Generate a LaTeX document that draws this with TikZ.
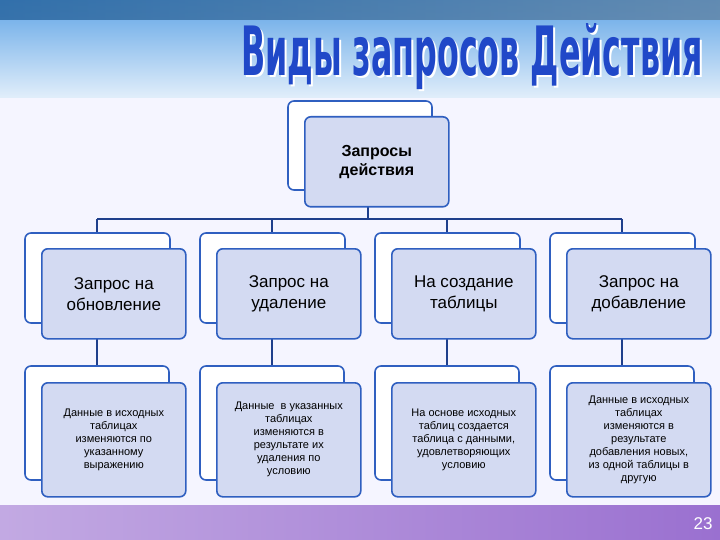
\documentclass[tikz,border=0pt]{standalone}
\usepackage{fontspec}
\setmainfont{Liberation Sans}
\newfontfamily\titlefont{DejaVu Sans Condensed}
\definecolor{bord}{HTML}{2F5FC0}
\definecolor{fillf}{HTML}{D3DAF2}
\definecolor{lin}{HTML}{1F3F8C}
\definecolor{topc}{HTML}{3A8FE0}
\definecolor{botc}{HTML}{9A70D0}
\definecolor{titc}{HTML}{2048C8}
\begin{document}
\begin{tikzpicture}[x=1pt,y=-1pt,
 backbox/.style={draw=bord,line width=1.6pt,fill=white,rounded corners=6pt},
 frontbox/.style={draw=bord,line width=1.6pt,fill=fillf,rounded corners=6pt},
 conn/.style={draw=lin,line width=1.6pt}]
\useasboundingbox (0,0) rectangle (720,540);
% background
\fill[top color=topc!80!white,bottom color=topc!15!white] (0,0) rectangle (720,98);
\fill[left color=topc,right color=topc!60!white,opacity=0.6] (0,0) rectangle (720,20);
\fill[blue!4] (0,98) rectangle (720,505);
\fill[left color=botc!60!white,right color=botc] (0,505) rectangle (720,540);
\node[text=white,font=\fontsize{17}{17}\selectfont] (pg) at (703,524) {23};
% title
\node[font=\titlefont\bfseries\fontsize{44}{44}\selectfont,text=white,anchor=center] (titleb) at (474,59)
 {\resizebox{462pt}{52pt}{Виды запросов Действия}};
\node[font=\titlefont\bfseries\fontsize{44}{44}\selectfont,text=titc,anchor=center] (title) at (472,57)
 {\resizebox{462pt}{52pt}{Виды запросов Действия}};
% connectors
\draw[conn] (97,219) -- (622,219);
\draw[conn] (368,190) -- (368,219);
\foreach \x in {97,272,447,622}{
 \draw[conn] (\x,219) -- (\x,233);
 \draw[conn] (\x,323) -- (\x,366);
}
% top box
\draw[backbox] (288,101) rectangle (432,190);
\node[frontbox,minimum width=144pt,minimum height=90pt,anchor=north west,align=center,
 font=\bfseries\fontsize{16}{19}\selectfont] (top) at (304,116) {Запросы\\действия};
% rows
\foreach \i/\a/\b in {0/{Запрос на\\обновление}/{Данные в исходных\\таблицах\\изменяются по\\указанному\\выражению},
 1/{Запрос на\\удаление}/{Данные\ \ в указанных\\таблицах\\изменяются в\\результате их\\удаления по\\условию},
 2/{На создание\\таблицы}/{На основе исходных\\таблиц создается\\таблица с данными,\\удовлетворяющих\\условию},
 3/{Запрос на\\добавление}/{Данные в исходных\\таблицах\\изменяются в\\результате\\добавления новых,\\из одной таблицы в\\другую}}{
 \pgfmathsetmacro{\bx}{25+175*\i}
 \draw[backbox] (\bx,233) rectangle ++(145,90);
 \node[frontbox,minimum width=144pt,minimum height=90pt,anchor=north west,align=center,
  font=\fontsize{17}{21}\selectfont] (r\i) at (\bx+16,248) {\a};
 \draw[backbox] (\bx,366) rectangle ++(144,114);
 \node[frontbox,minimum width=144pt,minimum height=114pt,anchor=north west,align=center,
  font=\fontsize{11}{13}\selectfont] (s\i) at (\bx+16,382) {\b};
}
\end{tikzpicture}
\end{document}
